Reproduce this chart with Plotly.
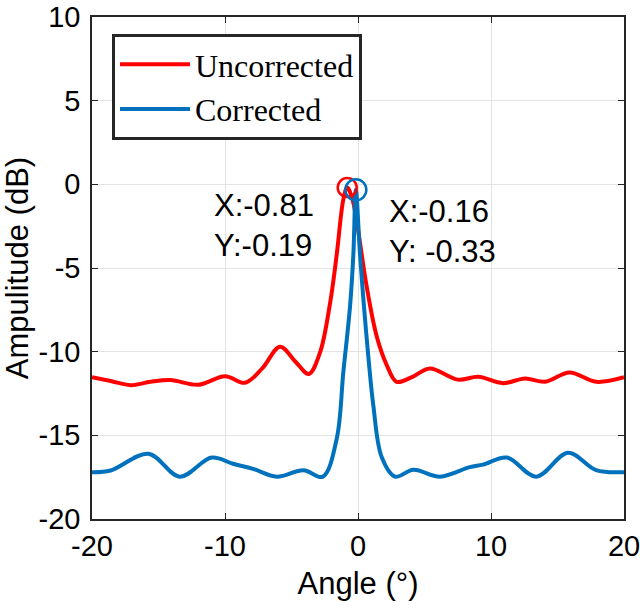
import plotly.graph_objects as go

# Uncorrected (red) pattern
unc_x = [-20, -18.6, -17.1, -15.6, -14.1, -12.0, -10.0, -8.5, -7.2, -5.86, -4.7, -3.7,
         -2.86, -2.1, -1.6, -1.1, -0.81, -0.45, -0.1, 0.65, 1.4, 2.16, 2.9, 4.1, 5.4,
         7.5, 9.05, 10.9, 12.56, 14.06, 15.9, 17.9, 20]
unc_y = [-11.53, -11.75, -12.0, -11.8, -11.7, -11.98, -11.47, -11.86, -11.0, -9.7, -10.6, -11.33,
         -10.06, -7.1, -4.2, -0.9, -0.19, -0.8, -2.2, -6.1, -9.06, -10.8, -11.8, -11.5, -11.0,
         -11.67, -11.5, -11.88, -11.6, -11.8, -11.24, -11.8, -11.53]

# Corrected (blue) pattern
cor_x = [-20, -18.6, -15.76, -13.4, -11.0, -9.4, -7.9, -6.1, -4.1, -2.65, -1.6, -1.1,
         -0.6, -0.35, -0.16, 0.15, 0.45, 0.8, 1.15, 1.78, 2.78, 4.16, 6.17, 8.4, 9.4,
         11.2, 13.4, 15.8, 17.9, 20]
cor_y = [-17.2, -17.1, -16.1, -17.47, -16.33, -16.7, -17.0, -17.47, -17.08, -17.47, -15.2, -11.2,
         -7.3, -4.2, -0.33, -4.2, -7.3, -10.5, -13.2, -16.3, -17.47, -17.06, -17.47, -16.9, -16.75,
         -16.33, -17.47, -16.04, -17.08, -17.2]

# Data tips
tip_x = [-0.81, -0.16]
tip_y = [-0.19, -0.33]
tip_text = ["X:-0.81<br>Y:-0.19", "X:-0.16<br>Y: -0.33"]

x_ticks = [-20, -10, 0, 10, 20]
y_ticks = [-20, -15, -10, -5, 0, 5, 10]

RED = "#ff0000"
BLUE = "#0072bd"
AX = "#262626"
SANS = "Liberation Sans, Arial"

TOP, BOT, LEFT, RIGHT = 17, 519, 92, 624

fig = go.Figure()
fig.add_trace(go.Scatter(x=unc_x, y=unc_y, mode="lines", name="Uncorrected",
                         line=dict(color=RED, width=4, shape="spline", smoothing=1.0)))
fig.add_trace(go.Scatter(x=cor_x, y=cor_y, mode="lines", name="Corrected",
                         line=dict(color=BLUE, width=4, shape="spline", smoothing=1.0)))
fig.add_trace(go.Scatter(x=[tip_x[0]], y=[tip_y[0]], mode="markers", showlegend=False,
                         marker=dict(symbol="circle-open", size=19, color=RED, line=dict(width=2.5, color=RED))))
fig.add_trace(go.Scatter(x=[tip_x[1]], y=[tip_y[1]], mode="markers", showlegend=False,
                         marker=dict(symbol="circle-open", size=21, color=BLUE, line=dict(width=2.5, color=BLUE))))

fig.add_annotation(x=-10.95, y=-2.45, text=tip_text[0], showarrow=False, xanchor="left", yanchor="middle",
                   align="left", font=dict(family=SANS, size=31, color="black"))
fig.add_annotation(x=2.15, y=-2.8, text=tip_text[1], showarrow=False, xanchor="left", yanchor="middle",
                   align="left", font=dict(family=SANS, size=31, color="black"))

axis_common = dict(showline=True, linecolor=AX, linewidth=1.5, mirror="ticks", ticks="inside",
                   ticklen=6, tickwidth=1.2, tickcolor=AX, showgrid=True, gridcolor="#e3e3e3",
                   gridwidth=1, zeroline=False, automargin=False, ticklabeloverflow="allow",
                   tickfont=dict(family=SANS, size=29, color="black"))

fig.update_xaxes(range=[-20, 20], tickvals=x_ticks, ticktext=[str(v) for v in x_ticks],
                 title=dict(text="Angle (°)", font=dict(family=SANS, size=31, color="black"),
                            standoff=12), **axis_common)
fig.update_yaxes(range=[-20, 10], tickvals=y_ticks, ticktext=[str(v) for v in y_ticks],
                 title=dict(text="Ampulitude (dB)", font=dict(family=SANS, size=31, color="black"),
                            standoff=6), ticklabelstandoff=4, **axis_common)

fig.update_layout(
    width=640, height=611,
    margin=dict(l=LEFT, r=640 - RIGHT, t=TOP, b=611 - BOT),
    plot_bgcolor="white", paper_bgcolor="white",
    legend=dict(x=(112 - LEFT) / (RIGHT - LEFT), y=(BOT - 34) / (BOT - TOP), xanchor="left", yanchor="top",
                bgcolor="white", bordercolor=AX, borderwidth=3, itemwidth=70,
                font=dict(family="Liberation Serif, Times New Roman", size=32, color="black"),
                tracegroupgap=0),
)

fig.write_html("out.html")
